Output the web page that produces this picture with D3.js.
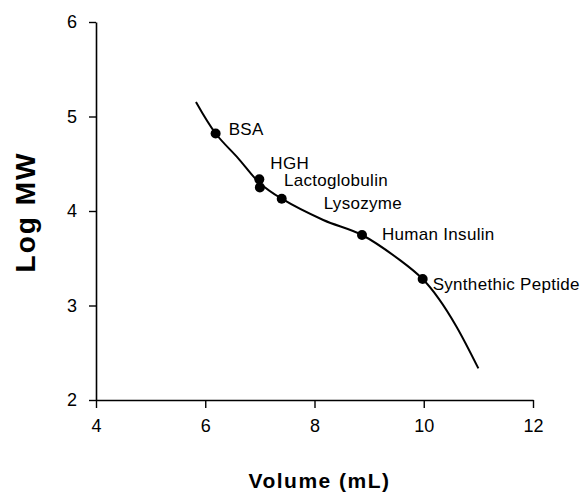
<!DOCTYPE html>
<html>
<head>
<meta charset="utf-8">
<script src="https://cdn.jsdelivr.net/npm/d3@7"></script>
<style>
  body { margin: 0; background: #fff; }
  svg { display: block; font-family: "Liberation Sans", Arial, sans-serif; }
</style>
</head>
<body>
<div id="chart"></div>
<script>
// calibration curve (hand drawn through the standards)
const curveVolume = [5.83, 6.19, 6.60, 6.99, 7.40, 8.16, 8.87, 9.565, 9.98, 10.27, 10.60, 11.0];
const curveLogMW  = [5.153, 4.82, 4.56, 4.30, 4.13, 3.905, 3.746, 3.48, 3.28, 3.076, 2.776, 2.335];

// standards
const proteins = ["BSA", "HGH", "Lactoglobulin", "Lysozyme", "Human Insulin", "Synthethic Peptide"];
const proteinVolume = [6.19, 6.99, 7.00, 7.40, 8.87, 9.98];
const proteinLogMW  = [4.82, 4.335, 4.25, 4.13, 3.746, 3.28];

const xTicks = [4, 6, 8, 10, 12];
const yTicks = [2, 3, 4, 5, 6];

// label placement relative to each marker (px)
const labelOffsets = [[13, 1.5], [11, -10.5], [24, -1], [42, 10], [20, 5], [10, 11]];

const width = 588, height = 493;

const svg = d3.select("#chart")
  .append("svg")
  .attr("width", width)
  .attr("height", height);

const x = d3.scaleLinear().domain([4, 12]).range([96, 533]);
const y = d3.scaleLinear().domain([2, 6]).range([400, 22]);

const xAxis = svg.append("g")
  .attr("transform", `translate(0,${y(2)})`)
  .call(d3.axisBottom(x).tickValues(xTicks).tickSize(8).tickSizeOuter(0).tickPadding(8).tickFormat(d3.format("d")));

const yAxis = svg.append("g")
  .attr("transform", `translate(${x(4)},0)`)
  .call(d3.axisLeft(y).tickValues(yTicks).tickSize(7).tickSizeOuter(0).tickPadding(12).tickFormat(d3.format("d")));

[xAxis, yAxis].forEach(g => {
  g.select(".domain").attr("stroke", "#000").attr("stroke-width", 1.6);
  g.selectAll(".tick line").attr("stroke", "#000").attr("stroke-width", 1.4);
  g.selectAll(".tick text")
    .attr("fill", "#000")
    .style("font-family", "\"Liberation Sans\", Arial, sans-serif")
    .style("font-size", "18px");
});
xAxis.selectAll(".tick text").attr("dy", "0.9em");

const curve = curveVolume.map((v, i) => [v, curveLogMW[i]]);

const line = d3.line()
  .x(d => x(d[0]))
  .y(d => y(d[1]))
  .curve(d3.curveCatmullRom.alpha(0.5));

svg.append("path")
  .datum(curve)
  .attr("fill", "none")
  .attr("stroke", "#000")
  .attr("stroke-width", 2)
  .attr("d", line);

const pts = proteins.map((name, i) => ({ name, v: proteinVolume[i], mw: proteinLogMW[i], off: labelOffsets[i] }));

svg.selectAll("circle.pt")
  .data(pts)
  .join("circle")
  .attr("class", "pt")
  .attr("cx", d => x(d.v))
  .attr("cy", d => y(d.mw))
  .attr("r", 5)
  .attr("fill", "#000");

svg.selectAll("text.lbl")
  .data(pts)
  .join("text")
  .attr("class", "lbl")
  .attr("x", d => x(d.v) + d.off[0])
  .attr("y", d => y(d.mw) + d.off[1])
  .attr("font-size", "17px")
  .attr("letter-spacing", "0.3px")
  .attr("fill", "#000")
  .text(d => d.name);

svg.append("text")
  .attr("x", (x(4) + x(12)) / 2 + 5)
  .attr("y", 488)
  .attr("text-anchor", "middle")
  .attr("font-size", "21px")
  .attr("font-weight", "bold")
  .attr("letter-spacing", "1.5px")
  .text("Volume (mL)");

svg.append("text")
  .attr("transform", `translate(35,212) rotate(-90)`)
  .attr("text-anchor", "middle")
  .attr("font-size", "28px")
  .attr("font-weight", "bold")
  .attr("letter-spacing", "2px")
  .text("Log MW");
</script>
</body>
</html>
